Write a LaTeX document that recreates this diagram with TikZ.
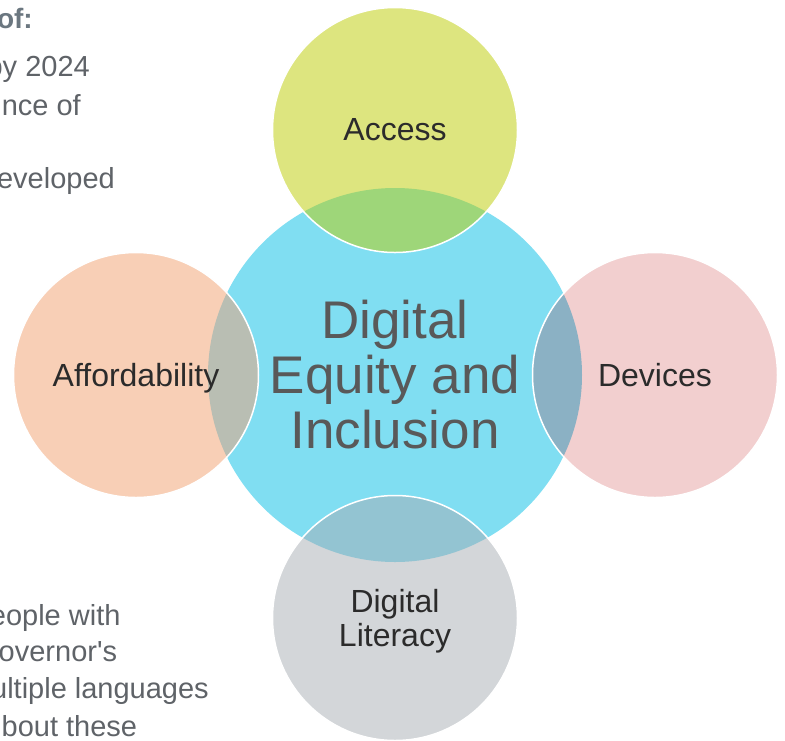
\documentclass[tikz,border=0pt]{standalone}
\usepackage{fontspec}
\setmainfont{Liberation Sans}
\newfontfamily\notefont{Liberation Sans}
\definecolor{hubblue}{HTML}{80DEF2}
\definecolor{hubtext}{HTML}{595959}
\definecolor{petaltext}{HTML}{2B2B2B}
\definecolor{accfill}{HTML}{DDE57F}
\definecolor{accmix}{HTML}{9ED679}
\definecolor{devfill}{HTML}{F2CFCF}
\definecolor{devmix}{HTML}{8BB1C4}
\definecolor{afffill}{HTML}{F8CFB6}
\definecolor{affmix}{HTML}{B9BEB3}
\definecolor{litfill}{HTML}{D3D6D9}
\definecolor{litmix}{HTML}{93C4D2}
\definecolor{notegray}{HTML}{5F6368}
\definecolor{headgray}{HTML}{6B7780}
\begin{document}
\begin{tikzpicture}[x=1pt,y=-1pt,
  hub/.style={circle,fill=hubblue,minimum size=374pt,inner sep=0pt,text=hubtext,align=center,font=\fontsize{53}{55}\selectfont},
  petal/.style 2 args={circle,fill=#1,draw=white,line width=1.5pt,minimum size=245pt,inner sep=0pt,text=petaltext,align=center,font=\fontsize{32}{33.4}\selectfont,path picture={\fill[#2] (H.center) circle (187pt);}},
  note/.style={anchor=base east,inner sep=0pt,text=notegray,font=\notefont\fontsize{29}{35}\selectfont}]
\useasboundingbox (0,0) rectangle (785,740);
\node[hub] (H) at (395,375) {Digital\\Equity and\\Inclusion};
\node[petal={accfill}{accmix}] (A) at (395,130) {Access};
\node[petal={devfill}{devmix}] (D) at (655,375) {Devices};
\node[petal={afffill}{affmix},text depth=0pt] (F) at (136,375) {Affordability};
\node[petal={litfill}{litmix},text depth=0pt] (L) at (395,618) {Digital\\Literacy};
% text cut at the left edge
\node[note,font=\notefont\bfseries\fontsize{28}{35}\selectfont,text=headgray] (n0) at (33,28.5) {of:};
\node[note] (n1) at (90,76.7) {by 2024};
\node[note] (n2) at (81,115) {nce of};
\node[note] (n3) at (115,188.3) {eveloped};
\node[note] (m1) at (120.7,625) {eople with};
\node[note] (m2) at (117.3,661.7) {overnor's};
\node[note] (m3) at (209,698.3) {ultiple languages};
\node[note] (m4) at (137.3,736) {bout these};
\end{tikzpicture}
\end{document}
